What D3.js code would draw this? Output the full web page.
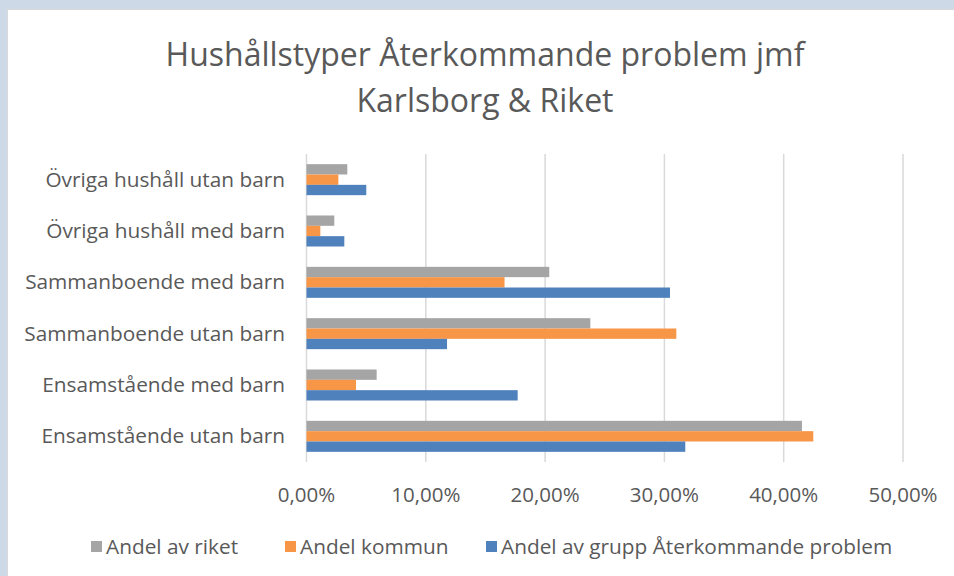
<!DOCTYPE html>
<html>
<head>
<meta charset="utf-8">
<script src="https://cdn.jsdelivr.net/npm/d3@7"></script>
<style>
  html, body { margin: 0; padding: 0; background: #cdd9e7; }
  svg { display: block; }
  text { font-family: "Open Sans", Lato, sans-serif; fill: #595959; }
</style>
</head>
<body>
<svg id="chart" width="954" height="576"></svg>
<script>
// ---- data (top-to-bottom order as shown) ----
const categories = [
  "Övriga hushåll utan barn",
  "Övriga hushåll med barn",
  "Sammanboende med barn",
  "Sammanboende utan barn",
  "Ensamstående med barn",
  "Ensamstående utan barn"
];
const seriesNames = ["Andel av riket", "Andel kommun", "Andel av grupp Återkommande problem"];
const andelRiket   = [0.0342, 0.0233, 0.2035, 0.2379, 0.0588, 0.4153];
const andelKommun  = [0.0267, 0.0116, 0.1660, 0.3100, 0.0415, 0.4248];
const andelGrupp   = [0.0501, 0.0317, 0.3047, 0.1178, 0.1770, 0.3175];
const xTicks = [0, 0.1, 0.2, 0.3, 0.4, 0.5];
const titleLines = ["Hushållstyper Återkommande problem jmf", "Karlsborg & Riket"];
const colors = ["#a5a5a5", "#f79646", "#4f81bd"];

const seriesValues = [andelRiket, andelKommun, andelGrupp];

const svg = d3.select("#chart");

// chart area background
svg.append("rect").attr("x", 7.5).attr("y", 9.5).attr("width", 950).attr("height", 570)
  .attr("fill", "#ffffff").attr("stroke", "#d9d9d9").attr("stroke-width", 1);

const x = d3.scaleLinear().domain([0, 0.5]).range([306.5, 903]);
const y = d3.scaleBand().domain(categories).range([154, 462]).paddingInner(0.396).paddingOuter(0.198);
const ySub = d3.scaleBand().domain(d3.range(seriesNames.length)).range([0, y.bandwidth()]);

const locale = d3.formatLocale({decimal: ",", thousands: " ", grouping: [3], currency: ["", " kr"]});
const fmt = locale.format(".2%");

// gridlines
svg.append("g").selectAll("line").data(xTicks).join("line")
  .attr("x1", d => x(d)).attr("x2", d => x(d))
  .attr("y1", 154).attr("y2", 462)
  .attr("stroke", "#d9d9d9").attr("stroke-width", 1.5);

// bars
seriesValues.forEach((vals, si) => {
  svg.append("g").selectAll("rect").data(categories).join("rect")
    .attr("x", x(0))
    .attr("y", (c) => y(c) + ySub(si))
    .attr("width", (c, i) => x(vals[i]) - x(0))
    .attr("height", ySub.bandwidth())
    .attr("fill", colors[si]);
});

// x axis labels
svg.append("g").selectAll("text").data(xTicks).join("text")
  .attr("x", d => x(d)).attr("y", 501.5)
  .attr("text-anchor", "middle")
  .style("font-size", "20.5px")
  .text(d => fmt(d));

// category labels
svg.append("g").selectAll("text").data(categories).join("text")
  .attr("x", 285).attr("y", c => y(c) + y.bandwidth() / 2 + 7)
  .attr("text-anchor", "end")
  .style("font-size", "20.8px")
  .text(c => c);

// title
svg.append("g").selectAll("text").data(titleLines).join("text")
  .attr("x", 485).attr("y", (d, i) => 66 + i * 46)
  .attr("text-anchor", "middle")
  .style("font-size", "32px").style("font-weight", 400)
  .text(d => d);

// legend
const legendX = [91, 285, 486];
const lg = svg.append("g");
seriesNames.forEach((name, i) => {
  lg.append("rect").attr("x", legendX[i]).attr("y", 541).attr("width", 11).attr("height", 11).attr("fill", colors[i]);
  lg.append("text").attr("x", legendX[i] + 15).attr("y", 554)
    .style("font-size", "20.8px").text(name);
});
</script>
</body>
</html>
